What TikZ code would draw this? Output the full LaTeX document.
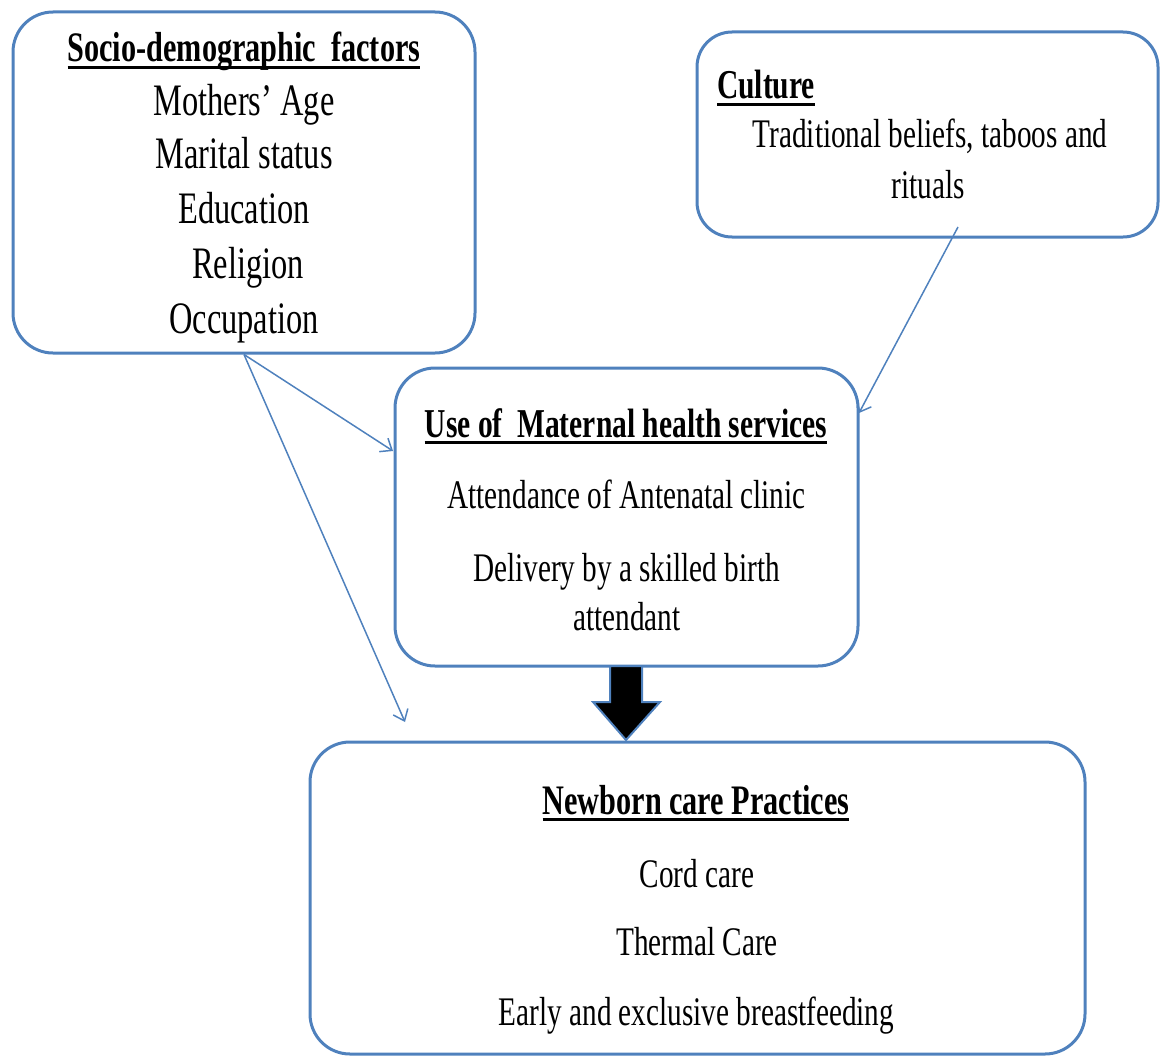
\documentclass[tikz,border=0pt]{standalone}
\usepackage{fontspec}
\setmainfont{Liberation Serif}[FakeStretch=0.72]
\usetikzlibrary{arrows.meta,positioning}
\definecolor{FrameBlue}{HTML}{4F81BD}
\newcommand{\ulinetext}[1]{\sbox0{#1}\rlap{\rule[-7pt]{\wd0}{2.6pt}}\usebox0}

\begin{document}
\begin{tikzpicture}[x=1pt, y=-1pt,
  panel/.style={draw=FrameBlue, line width=3pt, rounded corners=40pt, inner sep=0pt},
  txt/.style={anchor=base, inner sep=0pt, font=\fontsize{40.6}{48}\selectfont},
  bigtxt/.style={txt, font=\fontsize{45}{52}\selectfont},
  head/.style={txt, font=\fontsize{41}{50}\selectfont\bfseries},
  link/.style={-{Straight Barb[length=10pt,width=16pt]}, FrameBlue, line width=1.5pt}
]
\useasboundingbox (0,0) rectangle (1164,1057);

% boxes
\node[panel, minimum width=462pt, minimum height=341pt] (socio) at (244,182.5) {};
\node[panel, rounded corners=35pt, minimum width=461pt, minimum height=205pt] (culture) at (927.5,134.5) {};
\node[panel, minimum width=463pt, minimum height=298pt] (maternal) at (626.5,517) {};
\node[panel, minimum width=775pt, minimum height=312pt] (newborn) at (697.5,898) {};

% socio-demographic factors
\node[head, font=\fontsize{42}{50}\selectfont\bfseries] (socio-title) at (244,62) {\ulinetext{Socio-demographic\ \ factors}};
\node[bigtxt] (socio-age) at (244,115) {Mothers’ Age};
\node[bigtxt] (socio-marital) at (244,168) {Marital status};
\node[bigtxt] (socio-edu) at (244,223) {Education};
\node[bigtxt] (socio-rel) at (248,278) {Religion};
\node[bigtxt] (socio-occ) at (244,333) {Occupation};

% culture
\node[head, anchor=base west] (culture-title) at (717,99) {\ulinetext{Culture}};
\node[txt] (culture-beliefs) at (930,147) {Traditional beliefs, taboos and};
\node[txt] (culture-rituals) at (928,198) {rituals};

% maternal health services
\node[head] (maternal-title) at (626,437) {\ulinetext{Use of\ \ Maternal health services}};
\node[txt] (maternal-anc) at (626.5,508) {Attendance of Antenatal clinic};
\node[txt] (maternal-sba) at (626.5,581) {Delivery by a skilled birth};
\node[txt] (maternal-sba2) at (627,630) {attendant};

% newborn care
\node[head, font=\fontsize{42}{50}\selectfont\bfseries] (newborn-title) at (696,814) {\ulinetext{Newborn care Practices}};
\node[txt] (newborn-cord) at (697,887) {Cord care};
\node[txt] (newborn-thermal) at (697,955) {Thermal Care};
\node[txt] (newborn-bf) at (696.5,1025) {Early and exclusive breastfeeding};

% connectors
\coordinate (maternal-in) at (393,451);
\coordinate (newborn-in) at (405,722);
\coordinate (culture-out) at (958,227);
\coordinate (maternal-in2) at (859,413);
\draw[link] (socio.south) -- (maternal-in);
\draw[link] (socio.south) -- (newborn-in);
\draw[link] (culture-out) -- (maternal-in2);

% block arrow
\draw[fill=black, draw=FrameBlue, line width=2pt, line join=miter]
  (610,666) -- (642,666) -- (642,702) -- (660,702) -- (626,740)
  -- (593,702) -- (610,702) -- cycle;
\end{tikzpicture}
\end{document}
